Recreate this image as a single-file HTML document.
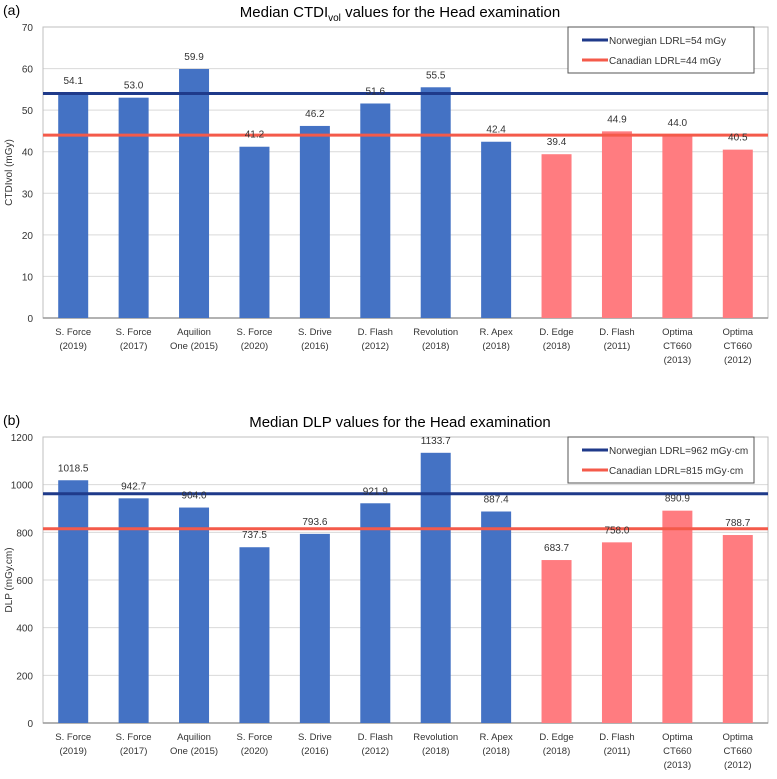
<!DOCTYPE html>
<html><head><meta charset="utf-8"><style>
body{margin:0;background:#fff;width:777px;height:774px;overflow:hidden;font-family:"Liberation Sans",sans-serif}
</style></head><body>
<svg id="svg" width="777" height="774" xmlns="http://www.w3.org/2000/svg"></svg>
<script>
const categories = [["S. Force","(2019)"],["S. Force","(2017)"],["Aquilion","One (2015)"],["S. Force","(2020)"],["S. Drive","(2016)"],["D. Flash","(2012)"],["Revolution","(2018)"],["R. Apex","(2018)"],["D. Edge","(2018)"],["D. Flash","(2011)"],["Optima","CT660","(2013)"],["Optima","CT660","(2012)"]];
const isCanadian = [0,0,0,0,0,0,0,0,1,1,1,1];
const ctdiValues = [54.1,53.0,59.9,41.2,46.2,51.6,55.5,42.4,39.4,44.9,44.0,40.5];
const dlpValues = [1018.5,942.7,904.0,737.5,793.6,921.9,1133.7,887.4,683.7,758.0,890.9,788.7];
const ctdiTicks = [0,10,20,30,40,50,60,70];
const dlpTicks = [0,200,400,600,800,1000,1200];
const ctdiRefs = [54,44];
const dlpRefs = [962,815];
const ctdiLegend = ["Norwegian LDRL=54 mGy","Canadian LDRL=44 mGy"];
const dlpLegend = ["Norwegian LDRL=962 mGy·cm","Canadian LDRL=815 mGy·cm"];

const svg=document.getElementById('svg');
const NS="http://www.w3.org/2000/svg";
function mk(tag,attrs,parent){const e=document.createElementNS(NS,tag);for(const k in attrs)e.setAttribute(k,attrs[k]);(parent||svg).appendChild(e);return e;}

function chart(cfg){
  const g=mk('g',{});
  
  
  const L=43,R=768,T=cfg.top,B=cfg.bottom,max=cfg.ticks[cfg.ticks.length-1];
  const y=v=>B-(v/max)*(B-T);
  const bw=(R-L)/categories.length;
  const x=i=>L+bw*(i+0.5);
  const pl=mk('text',{x:3,y:T-12,'font-size':14,fill:'#000'},g);pl.textContent=cfg.panel;
  
  const tt=mk('text',{x:400,y:T-10,'font-size':15,'text-anchor':'middle',fill:'#000'},g);
  tt.innerHTML=cfg.title;
  
  cfg.ticks.forEach(t=>{
    if(t>0){const gl=mk('line',{x1:L,x2:R,y1:y(t),y2:y(t),stroke:'#d9d9d9','stroke-width':1},g);
    }
    const tl=mk('text',{x:L-10,y:y(t)+4,'font-size':10,'text-anchor':'end',fill:'#333'},g);tl.textContent=t;
    
  });
  const fr=mk('rect',{x:L,y:T,width:R-L,height:B-T,fill:'none',stroke:'#bfbfbf'},g);
  
  const ax=mk('line',{x1:L,x2:R,y1:B,y2:B,stroke:'#999','stroke-width':1.5},g);
  
  const yt=mk('text',{x:0,y:0,'font-size':10,'text-anchor':'middle',fill:'#333',transform:`translate(12,${(T+B)/2}) rotate(-90)`},g);
  yt.textContent=cfg.ylabel;
  cfg.values.forEach((v,i)=>{
    const b=mk('rect',{x:x(i)-15,y:y(v),width:30,height:B-y(v),fill:isCanadian[i]?'#ff7c80':'#4472c4'},g);
    
    categories[i].forEach((s,j)=>{
      const c=mk('text',{x:x(i),y:B+17+j*14,'font-size':9.5,'text-anchor':'middle',fill:'#333'},g);
      c.textContent=s;
    });
  });
  const cols=['#1f3a8a','#f45a4a'];
  cfg.refs.forEach((r,k)=>{
    const l=mk('line',{x1:L,x2:R,y1:y(r),y2:y(r),stroke:cols[k],'stroke-width':3},g);
    
  });
  cfg.values.forEach((v,i)=>{
    const lb=mk('text',{x:x(i),y:y(v)-9,'font-size':10,'text-anchor':'middle',fill:'#333'},g);
    lb.textContent=v.toFixed(1);
  });
  const lg=mk('g',{},g);
  mk('rect',{x:568,y:T,width:186,height:46,fill:'#fff',stroke:'#555'},lg);
  cfg.legend.forEach((s,k)=>{
    const ly=T+13+k*20;
    mk('line',{x1:582,x2:608,y1:ly,y2:ly,stroke:cols[k],'stroke-width':3},lg);
    const t=mk('text',{x:609,y:ly+4,'font-size':10,fill:'#333'},lg);t.textContent=s;
    
  });
}
chart({name:'ctdi-chart',panel:'(a)',title:'Median CTDI<tspan font-size="10" dy="4">vol</tspan><tspan dy="-4"> values for the Head examination</tspan>',top:27,bottom:318,ticks:ctdiTicks,values:ctdiValues,refs:ctdiRefs,legend:ctdiLegend,ylabel:'CTDIvol (mGy)'});
chart({name:'dlp-chart',panel:'(b)',title:'Median DLP values for the Head examination',top:437,bottom:723,ticks:dlpTicks,values:dlpValues,refs:dlpRefs,legend:dlpLegend,ylabel:'DLP (mGy.cm)'});
</script>
</body></html>
